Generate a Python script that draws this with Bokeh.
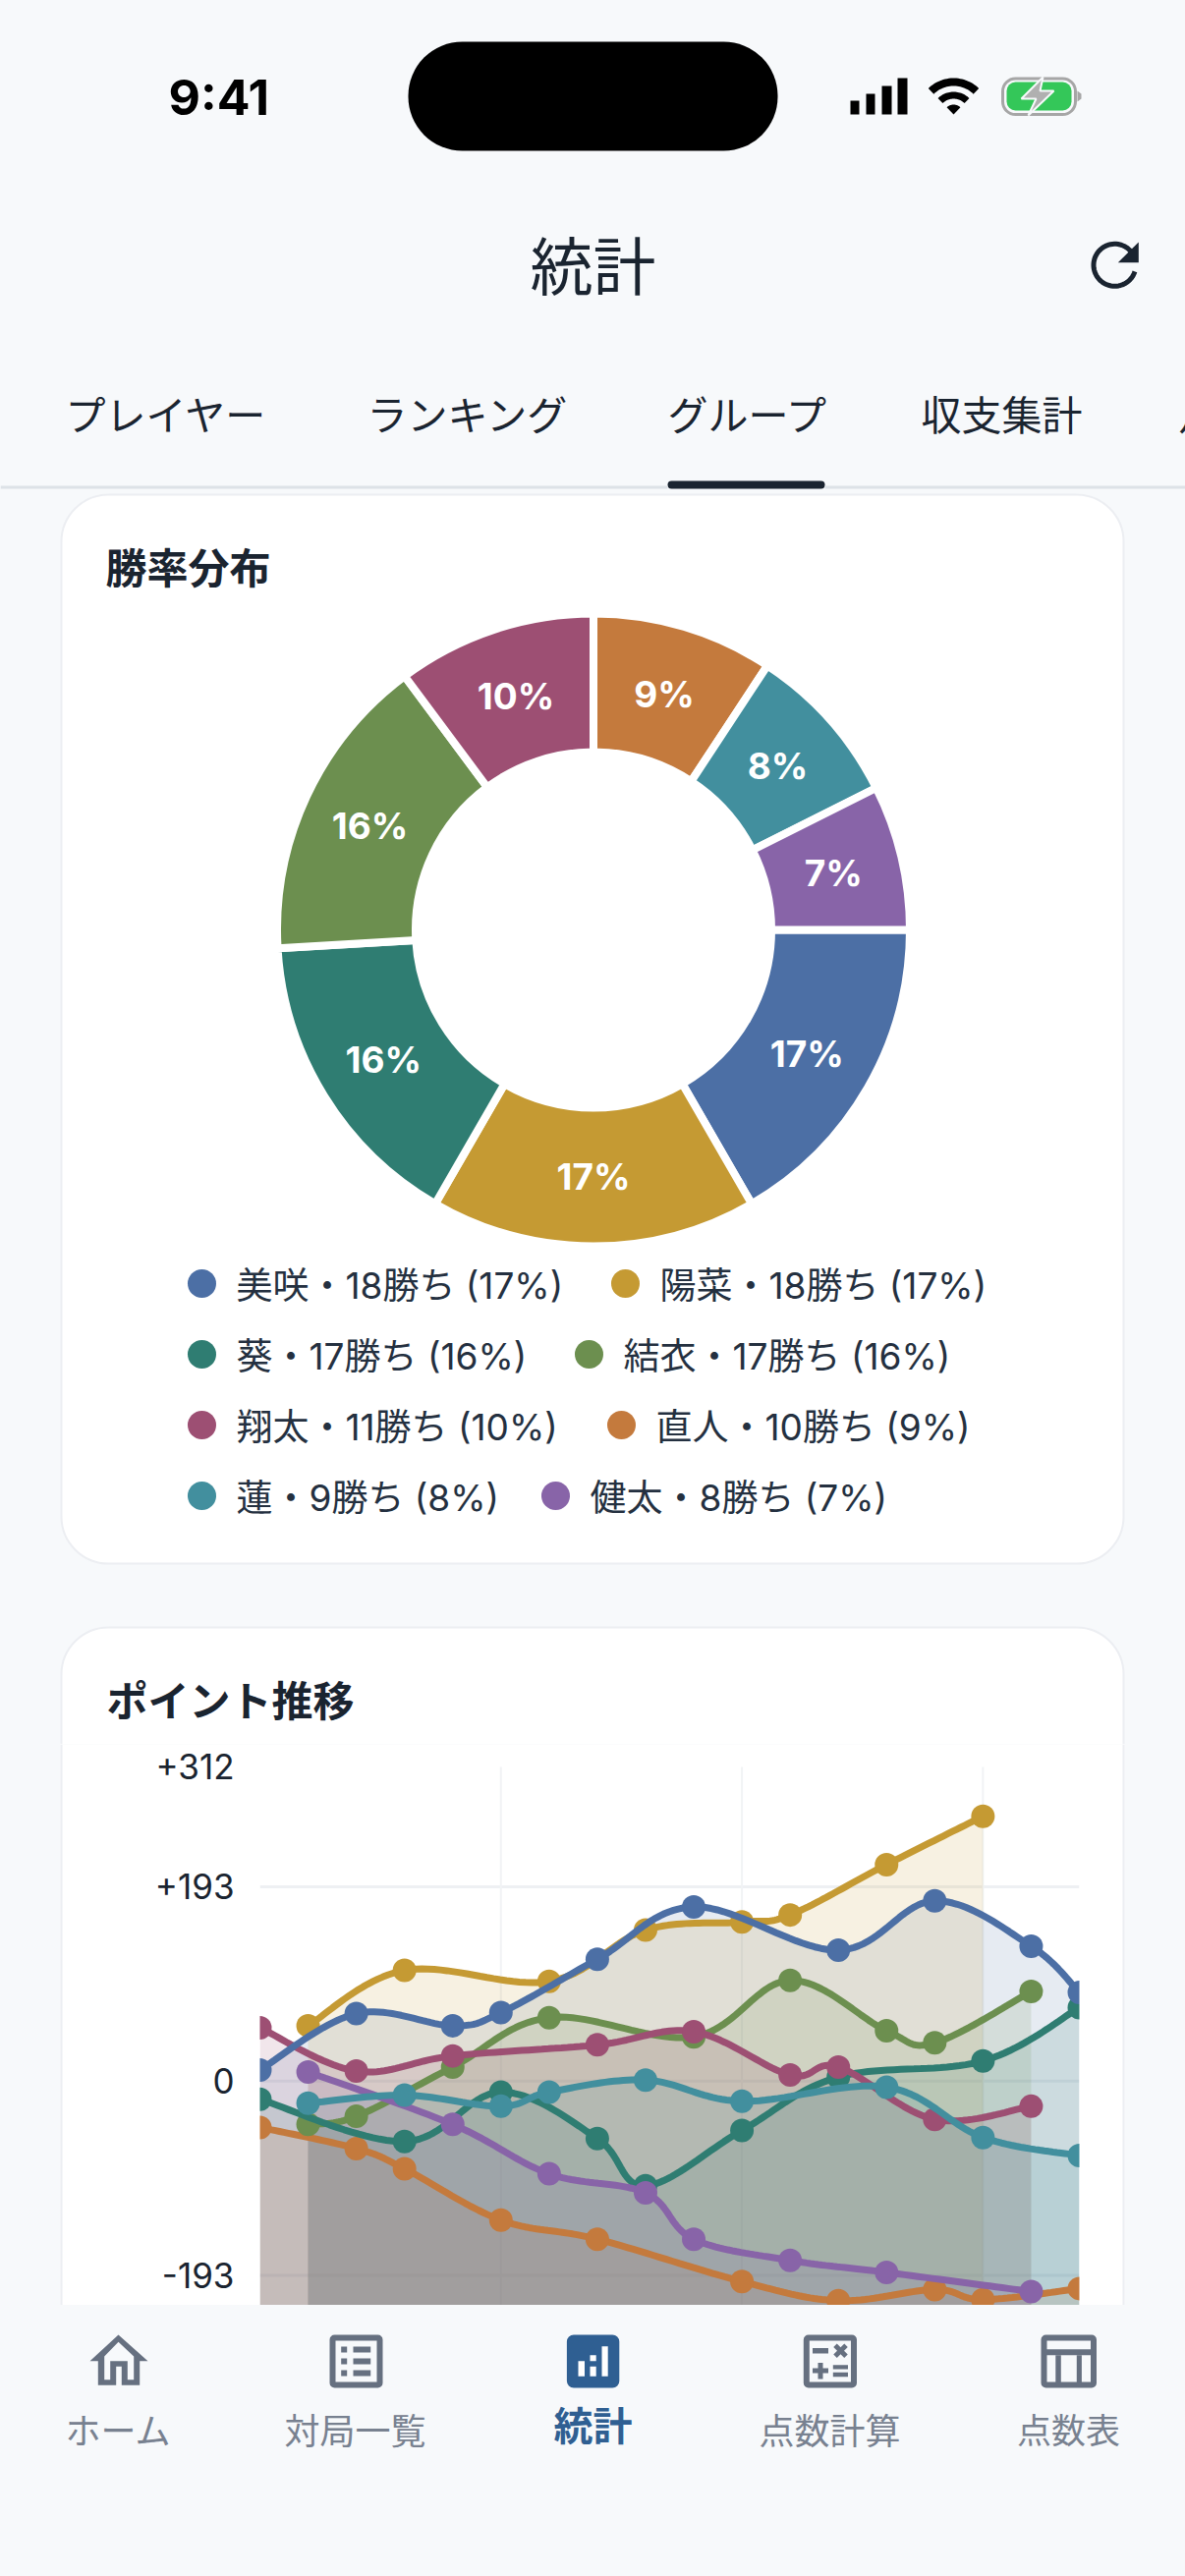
import numpy as np
from bokeh.core.properties import value
from bokeh.embed import file_html
from bokeh.models import BoxAnnotation, FixedTicker, GlobalInlineStyleSheet, Range1d
from bokeh.plotting import figure
from bokeh.resources import INLINE

# donut data
names = ["美咲", "陽菜", "葵", "結衣", "翔太", "直人", "蓮", "健太"]
wins = [18, 18, 17, 17, 11, 10, 9, 8]
colors = ["#4c6fa5", "#c59a33", "#2f7d72", "#6c8f4f", "#9d4f73", "#c47a3d", "#428f9e", "#8864a8"]

# point history, each player has its own rounds
misaki_rounds = [0, 2, 4, 5, 7, 9, 12, 14, 16, 17]
misaki_points = [11, 67, 55, 68, 121, 173, 130, 179, 134, 88]
haruna_rounds = [1, 3, 6, 8, 10, 11, 13, 15]
haruna_points = [55, 110, 99, 150, 158, 165, 215, 263]
aoi_rounds = [0, 3, 5, 7, 8, 10, 12, 15, 17]
aoi_points = [-18, -60, -11, -57, -104, -49, 4, 20, 73]
yui_rounds = [1, 2, 4, 6, 9, 11, 13, 14, 16]
yui_points = [-43, -35, 14, 63, 44, 100, 50, 38, 89]
shota_rounds = [0, 2, 4, 7, 9, 11, 12, 14, 16]
shota_points = [53, 10, 25, 36, 49, 6, 14, -38, -25]
naoto_rounds = [0, 2, 3, 5, 7, 10, 12, 14, 15, 17]
naoto_points = [-46, -67, -87, -138, -157, -199, -218, -207, -217, -206]
ren_rounds = [1, 3, 5, 6, 8, 10, 13, 15, 17]
ren_points = [-22, -14, -25, -11, 1, -20, -6, -56, -74]
kenta_rounds = [1, 4, 6, 8, 9, 11, 13, 16]
kenta_points = [9, -43, -92, -111, -157, -178, -190, -209]

y_ticks = [312, 193, 0, -193]
y_tick_labels = {312: "+312", 193: "+193", 0: "0", -193: "-193"}
y_grid = [193, 0, -193]
x_grid = [5, 10, 15]

tabs = ["プレイヤー", "ランキング", "グループ", "収支集計", "月別"]
nav_labels = ["ホーム", "対局一覧", "統計", "点数計算", "点数表"]

BG = "#f7f9fb"
INK = "#1a2430"
GREY = "#667080"
NAV_BLUE = "#2f5f92"
EDGE = "#eceef2"
JP = "Noto Sans CJK JP"
MIXED = "Inter, 'Noto Sans CJK JP'"
WIDTH = 1206


def page_figure(y0, y1):
    # figure whose data coordinates are page pixels
    f = figure(width=WIDTH, height=y1 - y0, x_range=Range1d(0, WIDTH), y_range=Range1d(y1, y0),
               x_axis_location=None, y_axis_location=None, toolbar_location=None,
               output_backend="svg", min_border=0, outline_line_color=None,
               background_fill_color=BG, border_fill_color=BG)
    f.grid.grid_line_color = None
    return f


def label(f, x, y, text, size, color=INK, bold=False, align="left", font=JP):
    f.text(x=[x], y=[y], text=[text], text_font=value(font), text_font_size=f"{size}px",
           text_color=color, text_font_style="bold" if bold else "normal",
           text_align=align, text_baseline="middle")


def box(f, l, r, t, b, fill, radius=0, line=None, line_width=0):
    f.add_layout(BoxAnnotation(left=l, right=r, top=t, bottom=b, fill_color=fill, fill_alpha=1,
                               line_color=line, line_width=line_width, line_alpha=1,
                               border_radius=radius, level="underlay"))


def rects(f, spans, color):
    f.quad(left=[s[0] for s in spans], right=[s[1] for s in spans], top=[s[2] for s in spans],
           bottom=[s[3] for s in spans], fill_color=color, line_color=None)


def band(cx, cy, r0, r1, a0, a1):
    # ring segment, angles in degrees, 0 is up
    a = np.radians(np.linspace(a0, a1, 30))
    xs = np.r_[cx + r1 * np.sin(a), cx + r0 * np.sin(a[::-1])]
    ys = np.r_[cy - r1 * np.cos(a), cy - r0 * np.cos(a[::-1])]
    return xs, ys


def smooth(xs, ys, k=0.35, n=24):
    # same style of cubic segments the app draws between points
    xs, ys = np.asarray(xs, float), np.asarray(ys, float)
    px, py = [xs[0]], [ys[0]]
    for i in range(len(xs) - 1):
        a = max(i - 1, 0)
        b = min(i + 2, len(xs) - 1)
        c1 = (xs[i] + (xs[i + 1] - xs[a]) / 2 * k, ys[i] + (ys[i + 1] - ys[a]) / 2 * k)
        c2 = (xs[i + 1] - (xs[b] - xs[i]) / 2 * k, ys[i + 1] - (ys[b] - ys[i]) / 2 * k)
        t = np.linspace(0, 1, n)[1:]
        px.extend((1 - t) ** 3 * xs[i] + 3 * (1 - t) ** 2 * t * c1[0] + 3 * (1 - t) * t ** 2 * c2[0] + t ** 3 * xs[i + 1])
        py.extend((1 - t) ** 3 * ys[i] + 3 * (1 - t) ** 2 * t * c1[1] + 3 * (1 - t) * t ** 2 * c2[1] + t ** 3 * ys[i + 1])
    return np.array(px), np.array(py)


# ---- header
top = page_figure(0, 499)
label(top, 171, 98, "9:41", 50, "#000000", True, font="Inter")
box(top, 415, 791, 42, 153, "#000000", radius=55)

rects(top, [(865, 874, 102, 116), (881, 890, 95, 116), (897, 907, 87, 116), (913, 923, 79, 116)], "#000000")
for r0, r1, a in [(29, 37, 44), (16, 23, 44), (0, 10, 44)]:
    wx, wy = band(970, 116, r0, r1, -a, a)
    top.patch(wx, wy, fill_color="#000000", line_color=None)
box(top, 1020, 1094, 79.5, 116, BG, radius=13, line="#a6a6a6", line_width=3)
box(top, 1024, 1090, 83, 112, "#34c759", radius=9)
top.patch([1096, 1100, 1100, 1096], [92, 95, 100, 103], fill_color="#a6a6a6", line_color=None)
top.patch([1061, 1039, 1054, 1046, 1072, 1058], [78, 100, 100, 117, 92, 92],
          fill_color="#b0b0b0", line_color=BG, line_width=2)

label(top, 603, 266, "統計", 64, align="center")
ang = np.radians(np.linspace(108, 410, 60))
top.line(1134 + 21.5 * np.sin(ang), 269.3 - 21.5 * np.cos(ang), line_color=INK, line_width=5)
top.patch([1158.3, 1158.3, 1137.3], [246, 266.7, 266.7], fill_color=INK, line_color=None)

for x, t in zip([66, 373, 679, 937, 1199], tabs):
    label(top, x, 419, t, 41)
rects(top, [(0, 679, 494, 497), (839, WIDTH, 494, 497)], "#dde2e7")
box(top, 679, 839, 489, 497, INK, radius=6)

# ---- win share card, and the head of the point history card
mid = page_figure(499, 1775)
box(mid, 62, 1143, 503, 1591, "#ffffff", radius=48, line=EDGE, line_width=2)
box(mid, 62, 1143, 1656, 1900, "#ffffff", radius=48, line=EDGE, line_width=2)
label(mid, 107, 575, "勝率分布", 42, bold=True)
label(mid, 108, 1728, "ポイント推移", 42, bold=True)

total = sum(wins)
ends = np.cumsum(wins) / total * 2 * np.pi
starts = np.r_[0, ends[:-1]]
cx, cy = 603.5, 946
mid.annular_wedge(x=cx, y=cy, inner_radius=181, outer_radius=322, start_angle=-ends, end_angle=-starts,
                  fill_color=colors, line_color="#ffffff", line_width=8)
pct = [round(w / total * 100) for w in wins]
mids = (starts + ends) / 2
mid.text(x=cx + 251 * np.cos(mids), y=cy + 251 * np.sin(mids), text=[f"{v}%" for v in pct],
         text_color="#ffffff", text_font=value("Inter"), text_font_size="37px", text_font_style="bold",
         text_align="center", text_baseline="middle")

legend_rows = [1306, 1378, 1450, 1522]
legend_dot_x = [205, 636, 205, 599, 205, 632, 205, 565]
for i, name in enumerate(names):
    y = legend_rows[i // 2]
    mid.scatter(x=[legend_dot_x[i]], y=[y], size=29, marker="circle", fill_color=colors[i], line_color=None)
    label(mid, legend_dot_x[i] + 35, y + 1.5, f"{name}・{wins[i]}勝ち ({pct[i]}%)", 37, "#243040", font=MIXED)

# ---- point history plot
# the frame is the width of the card, rounds 0 to 17 take up only its inner part
PX_PER_ROUND = (1098 - 264) / 17
PX_PER_POINT = 1.026
x_lo = -(264 - 61) / PX_PER_ROUND
x_hi = 17 + (1144 - 1098) / PX_PER_ROUND
y_lo = -222.7
y_hi = 312 + (1798 - 1775) / PX_PER_POINT
chart = figure(width=WIDTH, height=2346 - 1775, x_range=Range1d(x_lo, x_hi), y_range=Range1d(y_lo, y_hi),
               x_axis_location=None, toolbar_location=None, output_backend="svg",
               min_border_left=61, min_border_right=WIDTH - 1144, min_border_top=0, min_border_bottom=0,
               outline_line_color=None, background_fill_color="#ffffff", border_fill_color=BG)
chart.grid.grid_line_color = None
chart.yaxis.fixed_location = 0
chart.yaxis.ticker = FixedTicker(ticks=y_ticks)
chart.yaxis.major_label_overrides = y_tick_labels
chart.yaxis.axis_line_color = None
chart.yaxis.major_tick_line_color = None
chart.yaxis.minor_tick_line_color = None
chart.yaxis.major_label_standoff = 20
chart.yaxis.major_label_text_font = MIXED
chart.yaxis.major_label_text_font_size = "35px"
chart.yaxis.major_label_text_color = INK
chart.segment(x0=0, x1=17, y0=y_grid, y1=y_grid, line_color="#eef0f3", line_width=3)
chart.segment(x0=x_grid, x1=x_grid, y0=312, y1=y_lo, line_color="#f1f3f5", line_width=2)

fills = [
    (misaki_rounds, misaki_points, colors[0]),
    (haruna_rounds, haruna_points, colors[1]),
    (aoi_rounds, aoi_points, colors[2]),
    (yui_rounds, yui_points, colors[3]),
    (shota_rounds, shota_points, colors[4]),
    (naoto_rounds, naoto_points, colors[5]),
    (ren_rounds, ren_points, colors[6]),
    (kenta_rounds, kenta_points, colors[7]),
]
for rounds, points, color in fills:
    sx, sy = smooth(rounds, points)
    chart.varea(x=sx, y1=sy, y2=y_lo, fill_color=color, fill_alpha=0.14)

strokes = [
    (naoto_rounds, naoto_points, colors[5]),
    (haruna_rounds, haruna_points, colors[1]),
    (yui_rounds, yui_points, colors[3]),
    (aoi_rounds, aoi_points, colors[2]),
    (shota_rounds, shota_points, colors[4]),
    (misaki_rounds, misaki_points, colors[0]),
    (kenta_rounds, kenta_points, colors[7]),
    (ren_rounds, ren_points, colors[6]),
]
for rounds, points, color in strokes:
    sx, sy = smooth(rounds, points)
    chart.line(sx, sy, line_color=color, line_width=7)
    chart.scatter(rounds, points, size=24, marker="circle", fill_color=color, line_color=None)

# marks stop at the plot's edges, the card carries on white
chart.quad(left=[x_lo, 17], right=[0, x_hi], top=y_hi, bottom=y_lo, fill_color="#ffffff", line_color=None)
chart.vspan(x=[x_lo, x_hi], line_color=EDGE, line_width=4)

# ---- bottom navigation
nav = page_figure(2346, 2622)
H = GREY
nav.patch([120, 150, 141.7, 141.7, 123.3, 123.3, 117.7, 117.7, 99.3, 99.3, 91],
          [2376, 2402.7, 2402.7, 2427.3, 2427.3, 2408.3, 2408.3, 2427.3, 2427.3, 2402.7, 2402.7],
          fill_color=H, line_color=None)
nav.patch([120, 135.7, 135.7, 129.3, 129.3, 111.7, 111.7, 105.7, 105.7],
          [2383.3, 2398, 2421.7, 2421.7, 2402.7, 2402.7, 2421.7, 2421.7, 2398],
          fill_color=BG, line_color=None)

box(nav, 338, 386, 2379, 2427, BG, radius=2, line=H, line_width=6)
rects(nav, [(346.7, 352.7, 2388, 2394), (346.7, 352.7, 2400, 2406), (346.7, 352.7, 2412, 2418),
            (359, 376.7, 2388, 2394), (359, 376.7, 2400, 2406), (359, 376.7, 2412, 2418)], H)

box(nav, 576.4, 629.8, 2376, 2430, NAV_BLUE, radius=7)
rects(nav, [(588, 594.5, 2402.7, 2418.3), (600, 606.2, 2396.7, 2402.7), (600, 606.2, 2408.3, 2418.3),
            (612, 618.2, 2387.7, 2418.3)], "#ffffff")

box(nav, 820.3, 868.5, 2379, 2427, BG, radius=2, line=H, line_width=6)
rects(nav, [(826.5, 842.5, 2389.5, 2395), (826.5, 842.5, 2410, 2415), (832, 837, 2404.5, 2421),
            (847.3, 862.5, 2406.7, 2411), (847.3, 862.5, 2414.3, 2418.7)], H)
nav.multi_line([[849.5, 860.5], [849.5, 860.5]], [[2386.8, 2397.8], [2397.8, 2386.8]], line_color=H, line_width=5)

box(nav, 1062, 1112.5, 2379, 2427, BG, radius=2, line=H, line_width=6)
rects(nav, [(1062, 1112.5, 2390.7, 2396.7), (1073.8, 1079.3, 2396.7, 2427), (1095.3, 1100.4, 2396.7, 2427)], H)

for x, t, y, size in zip([120, 361, 603, 844, 1087], nav_labels, [2471, 2471, 2466, 2471, 2471], [36, 36, 40, 36, 35]):
    active = t == "統計"
    label(nav, x, y, t, size, NAV_BLUE if active else "#788190", active, "center")

# each figure is its own root so their frames are not lined up with each other
top.stylesheets = [GlobalInlineStyleSheet(css=f"html,body{{margin:0;padding:0;background:{BG};overflow:hidden}}")]
p = [top, mid, chart, nav]

open("out.html", "w").write(file_html(p, INLINE))
